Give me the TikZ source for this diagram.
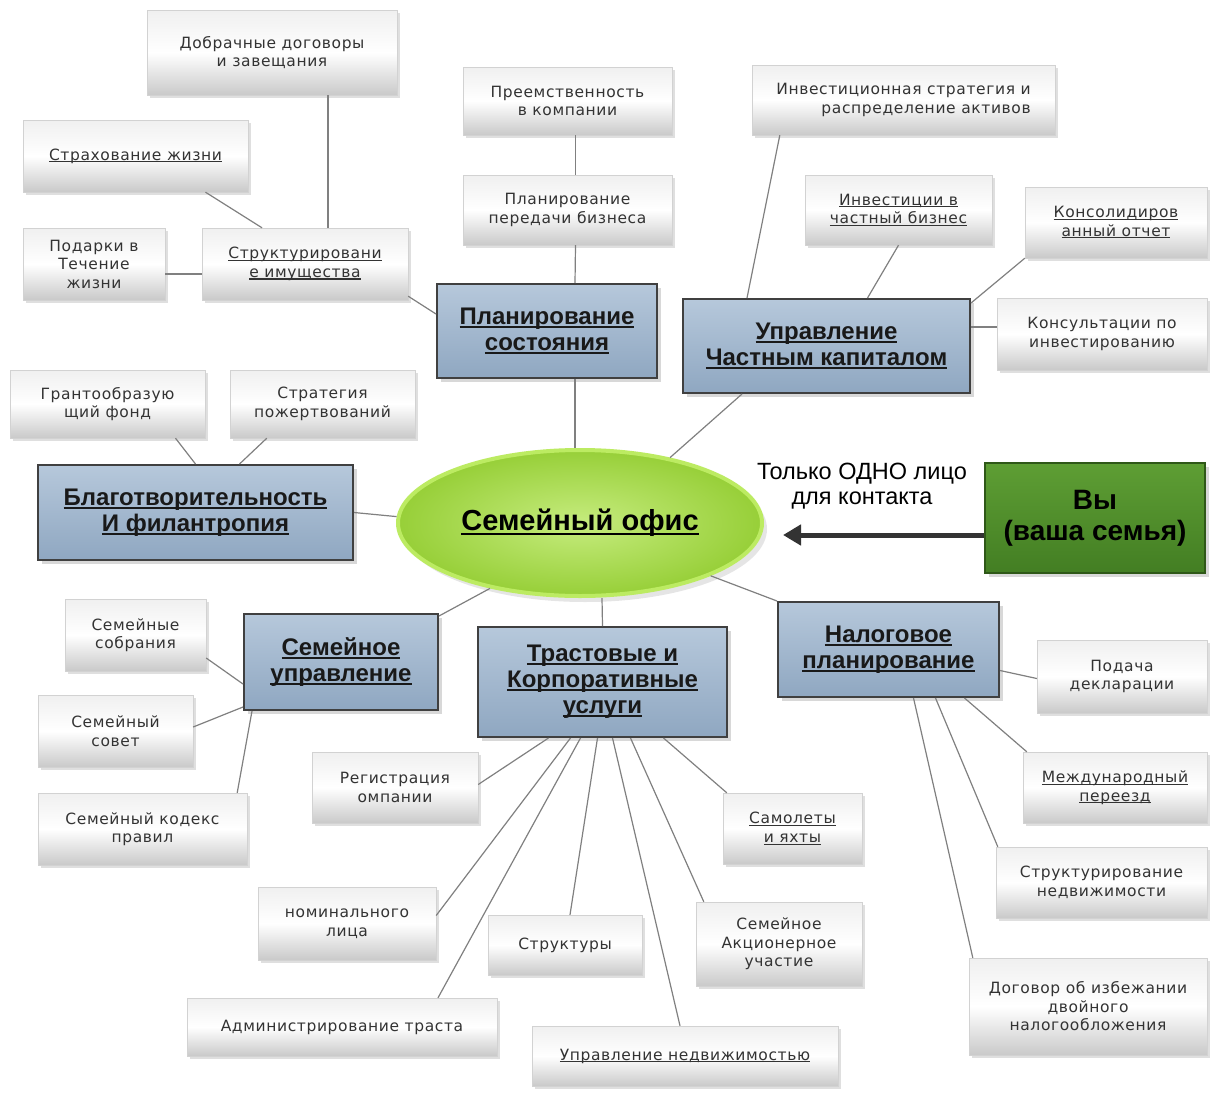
\documentclass[tikz,border=0pt]{standalone}
\usepackage{fontspec}
\setmainfont{Liberation Sans}
\newfontfamily\boxfont{DejaVu Sans}[LetterSpace=4.0]
\usetikzlibrary{shadows,arrows.meta,shapes.geometric}

\newsavebox\ulinebox
\newcommand\uln[1]{\sbox\ulinebox{#1}\rlap{\rule[-0.14em]{\wd\ulinebox}{0.07em}}\usebox\ulinebox}

\definecolor{mtop}{HTML}{B6C8DB}
\definecolor{mbot}{HTML}{8FA7C1}
\definecolor{ovalin}{HTML}{C6EC7E}
\definecolor{ovalout}{HTML}{97CF38}
\definecolor{ovalrim}{HTML}{BCEB62}
\definecolor{youtop}{HTML}{5E9E34}
\definecolor{youbot}{HTML}{437E23}

\begin{document}
\begin{tikzpicture}[x=1pt, y=-1pt,
        sbox/.style = {rectangle, draw=gray!35, top color=gray!12, bottom color=gray!42, middle color=white,
            drop shadow={shadow xshift=3pt, shadow yshift=-3pt, opacity=0.25},
            font=\boxfont\fontsize{15.5}{18.5}\selectfont, text=black!80, align=center, inner sep=2pt},
        mbox/.style = {rectangle, draw=black!75, line width=2pt, top color=mtop, bottom color=mbot,
            drop shadow={shadow xshift=4pt, shadow yshift=-4pt, opacity=0.3},
            font=\bfseries\fontsize{24}{26}\selectfont, text=black!90, align=center},
        link/.style = {gray, line width=1.2pt}
    ]
        \useasboundingbox[fill=white] (0,0) rectangle (1220,1092);

        % centre
        \node[ellipse, draw=ovalrim, line width=4pt, inner color=ovalin, outer color=ovalout,
            drop shadow={shadow xshift=5pt, shadow yshift=-6pt, opacity=0.2},
            minimum width=364, minimum height=146, font=\bfseries\fontsize{29}{31}\selectfont] (office) at (580,523) {\uln{Семейный офис}};
        \node[rectangle, draw=youbot!70!black, line width=1.5pt, top color=youtop, bottom color=youbot,
            drop shadow={shadow xshift=4pt, shadow yshift=-4pt, opacity=0.3},
            minimum width=220, minimum height=110, align=center, font=\bfseries\fontsize{28}{31}\selectfont] (you) at (1095,518) {Вы\\(ваша семья)};
        \node[align=center, font=\fontsize{23.5}{25}\selectfont] (contact) at (862,486) {Только ОДНО лицо\\для контакта};

        % main branches
        \node[mbox, minimum width=220, minimum height=94] (estate) at (547,331) {\uln{Планирование}\\\uln{состояния}};
        \node[mbox, minimum width=287, minimum height=94] (wealth) at (826.5,346) {\uln{Управление}\\\uln{Частным капиталом}};
        \node[mbox, minimum width=315, minimum height=95] (charity) at (195.5,512.5) {\uln{Благотворительность}\\\uln{И филантропия}};
        \node[mbox, minimum width=194, minimum height=96] (governance) at (341,662) {\uln{Семейное}\\\uln{управление}};
        \node[mbox, minimum width=249, minimum height=110] (trust) at (602.5,682) {\uln{Трастовые и}\\\uln{Корпоративные}\\\uln{услуги}};
        \node[mbox, minimum width=221, minimum height=95] (tax) at (888.5,649.5) {\uln{Налоговое}\\\uln{планирование}};

        % leaves
        \node[sbox, minimum width=250, minimum height=85] (prenup) at (272,52.5) {Добрачные договоры\\и завещания};
        \node[sbox, minimum width=225, minimum height=72] (life) at (135.5,156) {\uln{Страхование жизни}};
        \node[sbox, minimum width=142, minimum height=72] (gifts) at (94,264) {Подарки в\\Течение\\жизни};
        \node[sbox, minimum width=206, minimum height=72] (assets) at (305,264) {\uln{Структурировани}\\\uln{е имущества}};
        \node[sbox, minimum width=209, minimum height=68] (succession) at (567.5,101) {Преемственность\\в компании};
        \node[sbox, minimum width=209, minimum height=70] (transfer) at (567.5,210) {Планирование\\передачи бизнеса};
        \node[sbox, align=right, minimum width=303, minimum height=70] (invstrat) at (903.5,100) {Инвестиционная стратегия и\\распределение активов};
        \node[sbox, minimum width=187, minimum height=70] (privinv) at (898.5,210) {\uln{Инвестиции в}\\\uln{частный бизнес}};
        \node[sbox, minimum width=182, minimum height=71] (consol) at (1116,222.5) {\uln{Консолидиров}\\\uln{анный отчет}};
        \node[sbox, minimum width=210, minimum height=72] (advice) at (1102,334) {Консультации по\\инвестированию};
        \node[sbox, minimum width=195, minimum height=68] (grant) at (107.5,404) {Грантообразую\\щий фонд};
        \node[sbox, minimum width=185, minimum height=68] (donate) at (322.5,404) {Стратегия\\пожертвований};
        \node[sbox, minimum width=141, minimum height=72] (meetings) at (135.5,635) {Семейные\\собрания};
        \node[sbox, minimum width=155, minimum height=72] (council) at (115.5,731) {Семейный\\совет};
        \node[sbox, minimum width=209, minimum height=72] (code) at (142.5,829) {Семейный кодекс\\правил};
        \node[sbox, minimum width=166, minimum height=71] (register) at (395,787.5) {Регистрация\\омпании};
        \node[sbox, minimum width=139, minimum height=71] (jets) at (792.5,828.5) {\uln{Самолеты}\\\uln{и яхты}};
        \node[sbox, minimum width=178, minimum height=73] (nominee) at (347,923.5) {номинального\\лица};
        \node[sbox, minimum width=154, minimum height=60] (struct) at (565,945) {Структуры};
        \node[sbox, minimum width=166, minimum height=84] (shares) at (779,944) {Семейное\\Акционерное\\участие};
        \node[sbox, minimum width=310, minimum height=58] (trustadm) at (342,1027) {Администрирование траста};
        \node[sbox, minimum width=306, minimum height=60] (realty) at (685,1056) {\uln{Управление недвижимостью}};
        \node[sbox, minimum width=170, minimum height=73] (filing) at (1122,676.5) {Подача\\декларации};
        \node[sbox, minimum width=184, minimum height=71] (reloc) at (1115,787.5) {\uln{Международный}\\\uln{переезд}};
        \node[sbox, minimum width=211, minimum height=71] (realstruct) at (1101.5,882.5) {Структурирование\\недвижимости};
        \node[sbox, minimum width=238, minimum height=97] (dta) at (1088,1006.5) {Договор об избежании\\двойного\\налогообложения};

        % links
        \draw[link] ([xshift=-5]office.north) -- ([xshift=28]estate.south);
        \draw[link] ([xshift=28]estate.north) -- ([xshift=8]transfer.south);
        \draw[link] ([xshift=8]transfer.north) -- ([xshift=8]succession.south);
        \draw[link] ([yshift=17]estate.west) -- ([yshift=4]assets.south east);
        \draw[link] ([xshift=23]assets.north) -- ([xshift=56]prenup.south);
        \draw[link] ([xshift=-43]assets.north) -- ([xshift=70]life.south);
        \draw[link] ([yshift=-10]gifts.east) -- ([yshift=-10]assets.west);

        \draw[link] (office.36) -- ([xshift=60]wealth.south west);
        \draw[link] ([xshift=65]wealth.north west) -- ([xshift=28]invstrat.south west);
        \draw[link] ([xshift=41]wealth.north) -- (privinv.south);
        \draw[link] ([yshift=-5]wealth.north east) -- (consol.south west);
        \draw[link] ([yshift=19]wealth.east) -- ([yshift=7]advice.west);

        \draw[link] (office.178) -- (charity.east);
        \draw[link] (charity.north) -- ([xshift=68]grant.south);
        \draw[link] ([xshift=44]charity.north) -- ([xshift=37]donate.south west);

        \draw[link] (office.216) -- ([yshift=-3]governance.north east);
        \draw[link] ([yshift=-22]governance.west) -- ([yshift=-23]meetings.east);
        \draw[link] ([yshift=-45]governance.west) -- ([yshift=4]council.east);
        \draw[link] ([xshift=9]governance.south west) -- ([xshift=-10]code.north east);

        \draw[link] ([xshift=22]office.south) -- (trust.north);
        \draw[link] ([xshift=-54]trust.south) -- ([yshift=3]register.east);
        \draw[link] ([xshift=-32]trust.south) -- ([yshift=8]nominee.east);
        \draw[link] ([xshift=-22]trust.south) -- ([xshift=96]trustadm.north);
        \draw[link] ([xshift=-5]trust.south) -- ([xshift=5]struct.north);
        \draw[link] ([xshift=10]trust.south) -- ([xshift=-5]realty.north);
        \draw[link] ([xshift=28]trust.south) -- ([xshift=8]shares.north west);
        \draw[link] ([xshift=61]trust.south) -- ([xshift=4]jets.north west);

        \draw[link] (office.-22) -- (tax.north west);
        \draw[link] ([yshift=-21]tax.east) -- ([yshift=-2]filing.west);
        \draw[link] ([xshift=76]tax.south) -- ([xshift=4]reloc.north west);
        \draw[link] ([xshift=47]tax.south) -- ([xshift=2]realstruct.north west);
        \draw[link] ([xshift=25]tax.south) -- ([xshift=4]dta.north west);

        \draw[black!80, line width=5pt, -{Triangle[length=18pt, width=20pt]}] ([yshift=-17]you.west) -- ([xshift=19, yshift=-12]office.east);
    \end{tikzpicture}
\end{document}
